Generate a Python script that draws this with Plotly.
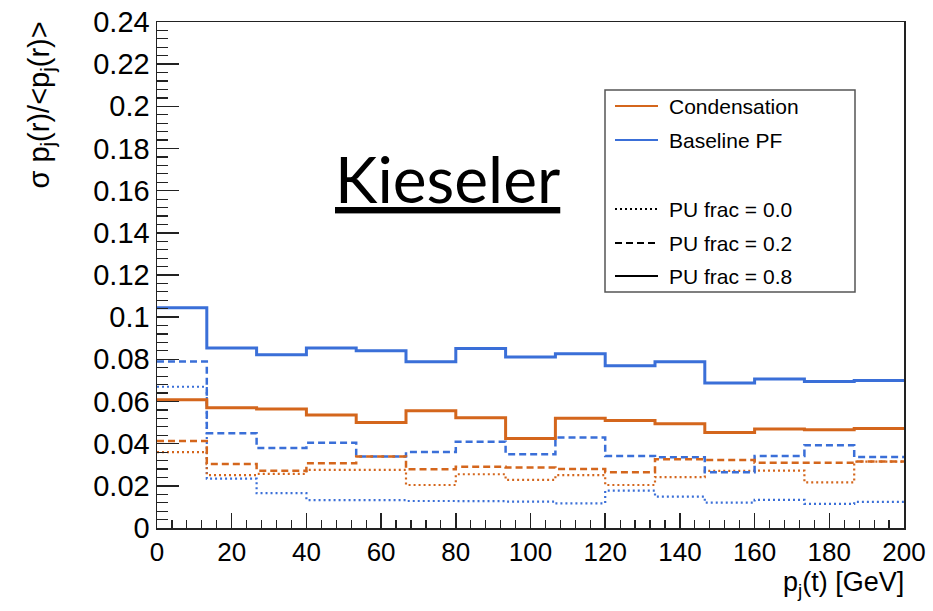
import plotly.graph_objects as go

# ---- data ----
bin_edges = [0, 13.333, 26.667, 40, 53.333, 66.667, 80, 93.333, 106.667,
             120, 133.333, 146.667, 160, 173.333, 186.667, 200]

baseline_pu08 = [0.1045, 0.0854, 0.0822, 0.0854, 0.0841, 0.0789, 0.0851, 0.0811,
                 0.0827, 0.0770, 0.0788, 0.0688, 0.0707, 0.0695, 0.0700]
condens_pu08 = [0.0608, 0.0570, 0.0565, 0.0536, 0.0500, 0.0556, 0.0523, 0.0424,
                0.0520, 0.0510, 0.0494, 0.0453, 0.0470, 0.0466, 0.0472]
baseline_pu02 = [0.0790, 0.0450, 0.0379, 0.0404, 0.0339, 0.0360, 0.0409, 0.0350,
                 0.0429, 0.0342, 0.0336, 0.0265, 0.0342, 0.0393, 0.0337]
condens_pu02 = [0.0413, 0.0303, 0.0272, 0.0307, 0.0339, 0.0279, 0.0290, 0.0287,
                0.0280, 0.0265, 0.0326, 0.0322, 0.0310, 0.0310, 0.0315]
baseline_pu00 = [0.0670, 0.0234, 0.0165, 0.0132, 0.0132, 0.0128, 0.0127, 0.0125,
                 0.0117, 0.0177, 0.0149, 0.0120, 0.0133, 0.0114, 0.0124]
condens_pu00 = [0.0360, 0.0251, 0.0257, 0.0276, 0.0276, 0.0204, 0.0255, 0.0228,
                0.0251, 0.0204, 0.0241, 0.0271, 0.0272, 0.0216, 0.0315]

legend_labels = ["Condensation", "Baseline PF", "PU frac = 0.0", "PU frac = 0.2", "PU frac = 0.8"]

ORANGE = "#d4661c"
BLUE = "#3a6fd8"
FONT = "Liberation Sans, Arial, Helvetica, sans-serif"

fig = go.Figure()

def add_hist(vals, color, dash, width):
    fig.add_trace(go.Scatter(
        x=bin_edges, y=list(vals) + [vals[-1]],
        mode="lines", line=dict(color=color, dash=dash, width=width, shape="hv"),
        showlegend=False, hoverinfo="skip"))

DOT = "2px,3px"
DASH = "7px,4px"
add_hist(baseline_pu00, BLUE, DOT, 2.2)
add_hist(condens_pu00, ORANGE, DOT, 2.2)
add_hist(baseline_pu02, BLUE, DASH, 2.5)
add_hist(condens_pu02, ORANGE, DASH, 2.5)
add_hist(baseline_pu08, BLUE, "solid", 3)
add_hist(condens_pu08, ORANGE, "solid", 3)

W, H = 933, 611
# plot-area edges in window pixels
L, R, T, B = 157, 904, 22, 528
def px(p):
    return (p - L) / (R - L)
def py(p):
    return (B - p) / (B - T)

shapes = []
annotations = []

# legend box
shapes.append(dict(type="rect", xref="paper", yref="paper",
                   x0=px(605), x1=px(855), y0=py(292), y1=py(90),
                   line=dict(color="#555555", width=1.5), fillcolor="white", layer="below"))
legend_items = [
    (legend_labels[0], ORANGE, "solid", 106),
    (legend_labels[1], BLUE, "solid", 140),
    (legend_labels[2], "black", DOT, 209),
    (legend_labels[3], "black", DASH, 243),
    (legend_labels[4], "black", "solid", 276),
]
for label, col, dash, yc in legend_items:
    shapes.append(dict(type="line", xref="paper", yref="paper",
                       x0=px(615), x1=px(658), y0=py(yc), y1=py(yc),
                       line=dict(color=col, width=2, dash=dash)))
    annotations.append(dict(xref="paper", yref="paper", x=px(667), y=py(yc),
                            xanchor="left", yanchor="middle", showarrow=False,
                            text=label, font=dict(family=FONT, size=21, color="black")))

# watermark text
annotations.append(dict(xref="paper", yref="paper", x=px(447), y=py(178),
                        xanchor="center", yanchor="middle", showarrow=False,
                        text="<u>Kieseler</u>",
                        font=dict(family="Lato, Open Sans, sans-serif", size=64, color="black")))

# axis titles
annotations.append(dict(xref="paper", yref="paper", x=px(40), y=py(20),
                        xanchor="center", yanchor="top", textangle=-90, showarrow=False,
                        text="σ p<sub>j</sub>(r)/&lt;p<sub>j</sub>(r)&gt;",
                        font=dict(family=FONT, size=29, color="black")))
annotations.append(dict(xref="paper", yref="paper", x=px(906), y=py(565),
                        xanchor="right", yanchor="top", showarrow=False,
                        text="p<sub>j</sub>(t) [GeV]",
                        font=dict(family=FONT, size=27, color="black")))

fig.update_layout(
    width=W, height=H,
    margin=dict(l=L, r=W - R, t=T, b=H - B, autoexpand=False),
    paper_bgcolor="white", plot_bgcolor="white",
    shapes=shapes, annotations=annotations,
    showlegend=False,
    font=dict(family=FONT, color="black"),
)
fig.update_xaxes(
    range=[0, 200], dtick=20, tick0=0,
    showgrid=False, zeroline=False,
    showline=True, linecolor="#222222", linewidth=1.5, mirror=True,
    ticks="inside", ticklen=15, tickwidth=1.5, tickcolor="#222222",
    minor=dict(ticks="inside", ticklen=8, dtick=4, tickwidth=1.2, tickcolor="#222222", showgrid=False),
    tickfont=dict(family=FONT, size=26, color="black"),
)
fig.update_yaxes(
    range=[0, 0.24], dtick=0.02, tick0=0,
    showgrid=False, zeroline=False,
    showline=True, linecolor="#222222", linewidth=1.5, mirror=True,
    ticks="inside", ticklen=22, tickwidth=1.5, tickcolor="#222222",
    minor=dict(ticks="inside", ticklen=11, dtick=0.004, tickwidth=1.2, tickcolor="#222222", showgrid=False),
    tickfont=dict(family=FONT, size=29, color="black"),
    ticklabeloverflow="allow",
)

# remove the default 8px page margin so the figure fills the window exactly
fig.write_html("out.html",
               config={"displayModeBar": False, "staticPlot": True},
               post_script="document.body.style.margin='0';document.body.style.overflow='hidden';")
